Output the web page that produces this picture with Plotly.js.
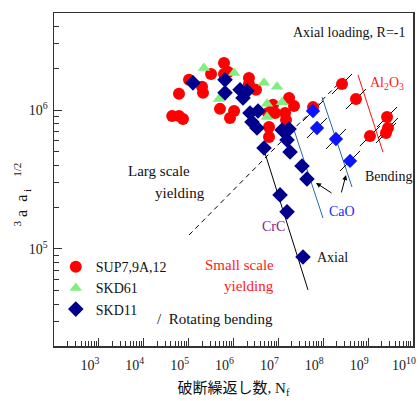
<!DOCTYPE html>
<html>
<head>
<meta charset="utf-8">
<script src="https://cdn.plot.ly/plotly-3.0.1.min.js"></script>
<style>
  html, body { margin: 0; padding: 0; background: #fff; }
  #chart { width: 418px; height: 401px; }
</style>
</head>
<body>
<div id="chart"></div>
<script>
// ---- Data (N = cycles to failure, S = sigma_a * sqrt(area)) ----
const supN = [4.3e4, 6.1e4, 7.5e4, 6.1e4, 1.02e5, 1.99e5, 2.09e5, 3.16e5, 6.14e5, 6.14e5, 7.54e5,
              5.0e5, 8.36e5, 1.03e6, 2.21e6, 2.21e6, 3.17e6, 6.18e6, 6.18e6, 7.59e6, 8.41e6, 1.41e7,
              1.48e7, 1.73e7, 2.23e7, 5.91e7, 2.62e8, 5.37e8, 1.10e9, 2.64e9, 2.77e9, 2.50e9, 5.87e6];
const supS = [9.07e5, 9.07e5, 8.63e5, 1.31e6, 1.65e6, 1.47e6, 1.33e6, 1.82e6, 2.18e6, 1.82e6, 1.88e6,
              1.02e6, 8.78e5, 9.85e5, 1.70e6, 1.54e6, 1.40e6, 7.55e5, 6.40e5, 1.09e6, 9.53e5, 9.53e5,
              8.49e5, 1.22e6, 1.07e6, 1.05e6, 1.54e6, 1.20e6, 6.50e5, 8.91e5, 7.43e5, 6.84e5, 9.53e5];
// indices of SUP points tested in rotating bending (drawn with a slash)
const supRotIdx = [26, 27, 28, 29, 30, 31];

const skd61N = [2.20e5, 1.03e6, 4.79e6, 9.31e6, 4.75e5, 5.58e6, 1.21e7, 5.58e6];
const skd61S = [2.01e6, 1.85e6, 1.57e6, 1.47e6, 1.20e6, 1.11e6, 1.14e6, 8.91e5];

const skd11N = [1.25e5, 6.47e5, 6.47e5, 1.40e6, 2.00e6, 1.63e6, 2.33e6, 3.52e6, 2.58e6, 3.34e6,
                4.79e6, 1.21e7, 1.73e7, 1.56e7, 1.82e7, 3.36e7, 4.34e7, 1.09e7, 1.56e7, 3.54e7];
const skd11S = [1.57e6, 1.65e6, 1.33e6, 1.40e6, 1.37e6, 1.22e6, 9.53e5, 9.85e5, 8.20e5, 7.43e5,
                5.33e5, 7.19e5, 7.31e5, 6.10e5, 4.99e5, 3.96e5, 3.19e5, 2.45e5, 1.85e5, 8.75e4];

// SKD11 with CaO inclusions, rotating bending
const caoN = [5.91e7, 7.26e7, 1.92e8, 3.95e8];
const caoS = [9.85e5, 7.43e5, 6.19e5, 4.30e5];

// guide lines
const yieldLineN = [1.02e5, 3.06e8];
const yieldLineS = [1.26e5, 1.73e6];
const crcLineN = [4.79e6, 4.57e7];
const crcLineS = [5.16e5, 5.07e4];
const cao1LineN = [2.23e7, 9.86e7];
const cao1LineS = [7.19e5, 1.67e5];
const cao2LineN = [9.38e7, 4.38e8];
const cao2LineS = [1.24e6, 2.79e5];
const al2o3LineN = [5.95e8, 2.14e9];
const al2o3LineS = [1.79e6, 4.99e5];

// "Bending" arrows: tail -> head
const arrowTailN = [1.65e8, 2.49e8];
const arrowTailS = [2.49e5, 2.49e5];
const arrowHeadN = [6.89e7, 3.21e8];
const arrowHeadS = [2.99e5, 3.41e5];

// ticks
const xTickVals = [1e3, 1e4, 1e5, 1e6, 1e7, 1e8, 1e9, 1e10];
const xTickText = ['10<sup>3</sup>', '10<sup>4</sup>', '10<sup>5</sup>', '10<sup>6</sup>',
                   '10<sup>7</sup>', '10<sup>8</sup>', '10<sup>9</sup>', '10<sup>10</sup>'];
const yTickVals = [1e5, 1e6];
const yTickText = ['10<sup>5</sup>', '10<sup>6</sup>'];

// ---- Build figure ----
const SERIF = "'Liberation Serif', 'Times New Roman', serif";
const CJK = "'Liberation Serif', 'Noto Sans CJK JP', serif";

const rotN = supRotIdx.map(i => supN[i]).concat(caoN);
const rotS = supRotIdx.map(i => supS[i]).concat(caoS);

function line(xs, ys, color, dash) {
  return {x: xs, y: ys, mode: 'lines', type: 'scatter', showlegend: false, hoverinfo: 'skip',
          line: {color: color, width: 1, dash: dash || 'solid'}};
}

const traces = [
  line(yieldLineN, yieldLineS, '#000', '5px,4px'),
  line(crcLineN, crcLineS, '#000'),
  line(cao1LineN, cao1LineS, '#2a68a8'),
  line(cao2LineN, cao2LineS, '#2a68a8'),
  line(al2o3LineN, al2o3LineS, '#ff1010'),
  {x: rotN, y: rotS, mode: 'markers', type: 'scatter', showlegend: false, hoverinfo: 'skip',
   marker: {symbol: 'line-ne', size: 20, line: {color: '#000', width: 1}}},
  {x: supN, y: supS, mode: 'markers', type: 'scatter', name: 'SUP7,9A,12',
   marker: {symbol: 'circle', size: 12, color: '#ff0000', line: {width: 0}}},
  {x: skd61N, y: skd61S, mode: 'markers', type: 'scatter', name: 'SKD61',
   marker: {symbol: 'triangle-up', size: 11, color: '#80ee80', line: {width: 0}}},
  {x: skd11N, y: skd11S, mode: 'markers', type: 'scatter', name: 'SKD11',
   marker: {symbol: 'diamond', size: 12, color: '#00008c', line: {width: 0}}},
  {x: caoN, y: caoS, mode: 'markers', type: 'scatter', showlegend: false,
   marker: {symbol: 'diamond', size: 11, color: '#0a14ff', line: {width: 0}}}
];

function txt(x, y, text, color, xanchor, size) {
  return {xref: 'paper', yref: 'paper', x: x, y: y, text: text, showarrow: false,
          xanchor: xanchor || 'left', yanchor: 'middle',
          font: {family: SERIF, size: size || 15, color: color || '#111'}};
}

const annotations = [
  txt(0.986, 0.940, 'Axial loading, R=-1', '#111', 'right', 14),
  txt(0.875, 0.787, 'Al<sub>2</sub>O<sub>3</sub>', '#ff1a1a', 'left', 14),
  txt(0.861, 0.508, 'Bending', '#111', 'left', 14),
  txt(0.760, 0.405, 'CaO', '#1a2aff', 'left', 14),
  txt(0.574, 0.360, 'CrC', '#8b1a8b', 'left', 14),
  txt(0.727, 0.267, 'Axial', '#111', 'left', 14),
  txt(0.618, 0.243, 'Small scale', '#ff1a1a', 'right', 15),
  txt(0.618, 0.180, 'yielding', '#ff1a1a', 'right', 15),
  txt(0.2006, 0.5255, 'Larg scale', '#111', 'left', 15),
  txt(0.276, 0.459, 'yielding', '#111', 'left', 15),
  txt(0.281, 0.081, '/\u00a0\u00a0Rotating bending', '#111', 'left', 15),
  // y-axis title
  {xref: 'paper', yref: 'paper', x: -0.089, y: 0.455, xanchor: 'center', yanchor: 'middle',
   textangle: -90, showarrow: false,
   text: '<sup>3</sup>\u00a0a\u00a0\u00a0a<sub>\u00a0i</sub>\u00a0\u00a0\u00a0<sup>1/2</sup>',
   font: {family: SERIF, size: 16, color: '#111'}}
];
for (let i = 0; i < arrowHeadN.length; i++) {
  annotations.push({
    xref: 'x', yref: 'y', axref: 'x', ayref: 'y',
    x: Math.log10(arrowHeadN[i]), y: Math.log10(arrowHeadS[i]),
    ax: Math.log10(arrowTailN[i]), ay: Math.log10(arrowTailS[i]),
    text: '', showarrow: true, arrowhead: 2, arrowsize: 1, arrowwidth: 1, arrowcolor: '#000'
  });
}

const axisCommon = {
  type: 'log', showline: true, linecolor: '#333', linewidth: 1.5, mirror: true,
  ticks: 'inside', ticklen: 8, tickwidth: 1, tickcolor: '#333',
  showgrid: false, zeroline: false, tickmode: 'array',
  tickfont: {family: SERIF, size: 14, color: '#222'},
  minor: {tickmode: 'linear', dtick: 'D1', ticks: 'inside', ticklen: 5, tickwidth: 1, tickcolor: '#333', showgrid: false}
};

const layout = {
  width: 418, height: 401,
  margin: {l: 54, r: 5, t: 13, b: 55, pad: 0},
  paper_bgcolor: '#fff', plot_bgcolor: '#fff',
  showlegend: true,
  legend: {x: 0.005, y: 0.285, xanchor: 'left', yanchor: 'top', bgcolor: 'rgba(0,0,0,0)',
           borderwidth: 0, font: {family: SERIF, size: 14, color: '#111'}, itemsizing: 'trace'},
  xaxis: Object.assign({}, axisCommon, {
    range: [2, 10], tickvals: xTickVals, ticktext: xTickText,
    ticklabelshift: -9, ticklabelstandoff: 6,
    title: {text: '破断繰返し数, N<sub>f</sub>', font: {family: CJK, size: 15, color: '#111'}, standoff: 10}
  }),
  yaxis: Object.assign({}, axisCommon, {
    range: [Math.log10(2e4), Math.log10(5e6)], tickvals: yTickVals, ticktext: yTickText,
    ticklabelstandoff: 2
  }),
  annotations: annotations
};

Plotly.newPlot('chart', traces, layout, {staticPlot: true, displayModeBar: false});
</script>
</body>
</html>
